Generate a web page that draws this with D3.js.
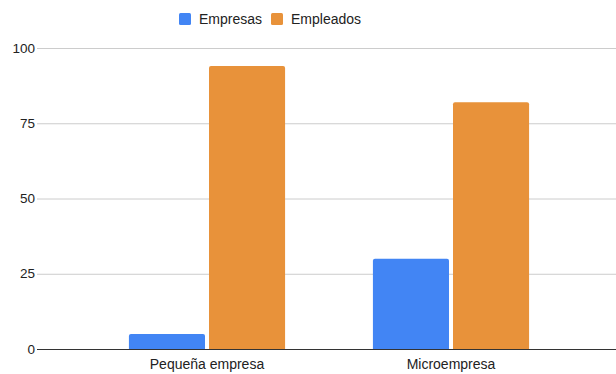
<!DOCTYPE html>
<html><head><meta charset="utf-8">
<script src="https://cdn.jsdelivr.net/npm/d3@7"></script>
<style>body{margin:0;background:#fff}svg{display:block;font-family:"Liberation Sans",Arial,sans-serif}</style>
</head><body><svg id="c" width="616" height="374"></svg>
<script>
const categories = ["Pequeña empresa", "Microempresa"];
const series = ["Empresas", "Empleados"];
const empresas = [5, 30];
const empleados = [94, 82];
const yTicks = [0, 25, 50, 75, 100];
const colors = ["#4285f4", "#e8923a"];

const svg = d3.select("#c");
const y = d3.scaleLinear().domain([0, 100]).range([349, 48]);
const x0 = d3.scaleBand().domain(categories).range([85, 573]).paddingInner(0.36).paddingOuter(0.18);
const x1 = d3.scaleBand().domain(series).range([0, x0.bandwidth()]).paddingInner(0.05);

// gridlines
svg.append("g").selectAll("line").data(yTicks.filter(d => d !== 0)).join("line")
  .attr("x1", 37).attr("x2", 616).attr("y1", d => y(d) + 0.5).attr("y2", d => y(d) + 0.5)
  .attr("stroke", "#cccccc").attr("stroke-width", 1);

// y labels
svg.append("g").selectAll("text").data(yTicks).join("text")
  .attr("x", 35).attr("y", d => y(d)).attr("dy", "0.35em").attr("text-anchor", "end")
  .attr("font-size", 13.5).attr("fill", "#222").text(d => d);

const data = categories.map((c, i) => ({ c, vals: [empresas[i], empleados[i]] }));
const g = svg.append("g").selectAll("g").data(data).join("g")
  .attr("transform", d => `translate(${x0(d.c)},0)`);
g.selectAll("path").data(d => d.vals.map((v, j) => ({ s: series[j], v, j }))).join("path")
  .attr("fill", d => colors[d.j])
  .attr("d", d => {
    const xx = x1(d.s), w = x1.bandwidth(), yt = y(d.v), yb = y(0), r = 2;
    return `M${xx},${yb}V${yt + r}Q${xx},${yt} ${xx + r},${yt}H${xx + w - r}Q${xx + w},${yt} ${xx + w},${yt + r}V${yb}Z`;
  });

// baseline
svg.append("line").attr("x1", 37).attr("x2", 616).attr("y1", y(0) + 0.5).attr("y2", y(0) + 0.5)
  .attr("stroke", "#333").attr("stroke-width", 1);

// x labels
svg.append("g").selectAll("text").data(categories).join("text")
  .attr("x", d => x0(d) + x0.bandwidth() / 2).attr("y", 369).attr("text-anchor", "middle")
  .attr("font-size", 14).attr("fill", "#222").text(d => d);

// legend
const leg = [{ s: series[0], x: 179 }, { s: series[1], x: 271 }];
const lg = svg.append("g").selectAll("g").data(leg).join("g");
lg.append("rect").attr("x", d => d.x).attr("y", 13).attr("width", 12).attr("height", 12).attr("rx", 1.5)
  .attr("fill", (d, i) => colors[i]);
lg.append("text").attr("x", d => d.x + 20).attr("y", 19).attr("dy", "0.35em")
  .attr("font-size", 14).attr("fill", "#222").text(d => d.s);
</script></body></html>
